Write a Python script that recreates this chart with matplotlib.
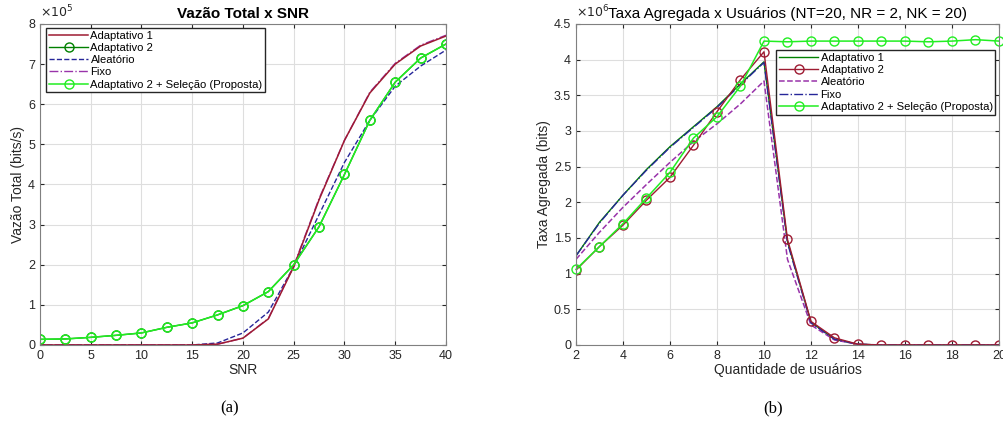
import numpy as np
from matplotlib import pyplot as plt

plt.rcParams['font.family'] = ['Liberation Sans', 'DejaVu Sans']

# (a) Vazao total x SNR, values in units of 1e5 bits/s
snr = [0, 2.5, 5, 7.5, 10, 12.5, 15, 17.5, 20, 22.5, 25, 27.5, 30, 32.5, 35, 37.5, 40]
vaz_adapt1 = [0, 0, 0, 0, 0, 0, 0, 0.02, 0.17, 0.65, 1.95, 3.62, 5.1, 6.28, 7.0, 7.45, 7.7]
vaz_fixo = [0, 0, 0, 0, 0, 0, 0, 0.02, 0.17, 0.66, 1.97, 3.65, 5.1, 6.3, 7.02, 7.47, 7.72]
vaz_aleat = [0, 0, 0, 0, 0, 0, 0, 0.05, 0.3, 0.82, 1.95, 3.25, 4.55, 5.6, 6.45, 6.95, 7.35]
vaz_proposta = [0.14, 0.15, 0.19, 0.24, 0.30, 0.44, 0.55, 0.75, 0.98, 1.33, 2.0, 2.95, 4.25, 5.6, 6.55, 7.15, 7.5]
vaz_adapt2 = vaz_proposta

# (b) Taxa agregada x usuarios, values in units of 1e6 bits
users = list(range(2, 21))
tax_adapt1 = [1.25, 1.72, 2.1, 2.46, 2.78, 3.06, 3.34, 3.66, 3.97, 1.45, 0.32, 0.08, 0.01, 0, 0, 0, 0, 0, 0]
tax_adapt2 = [1.05, 1.38, 1.68, 2.03, 2.35, 2.8, 3.27, 3.72, 4.11, 1.48, 0.33, 0.1, 0.01, 0, 0, 0, 0, 0, 0]
tax_aleat = [1.2, 1.58, 1.93, 2.25, 2.56, 2.85, 3.1, 3.38, 3.7, 1.2, 0.28, 0.07, 0.01, 0, 0, 0, 0, 0, 0]
tax_fixo = [1.25, 1.71, 2.1, 2.45, 2.77, 3.05, 3.33, 3.65, 3.96, 1.43, 0.31, 0.08, 0.01, 0, 0, 0, 0, 0, 0]
tax_proposta = [1.06, 1.38, 1.7, 2.06, 2.42, 2.9, 3.2, 3.63, 4.26, 4.25, 4.26, 4.26, 4.26, 4.26, 4.26, 4.25, 4.26, 4.28, 4.26]

dark_red = '#9e1b32'
dark_green = '#008000'
lime = '#22ee22'
purple = '#9933aa'
navy = '#262699'
txt = '#262626'


def style(ax):
    ax.grid(True, color='#dedede', linewidth=0.8)
    ax.set_axisbelow(True)
    ax.tick_params(direction='in', length=3, labelsize=9, colors=txt, top=True, right=True)
    for s in ax.spines.values():
        s.set_color('#808080')
        s.set_linewidth(0.8)


def legend(ax, order, anchor):
    h, l = ax.get_legend_handles_labels()
    ax.legend([h[i] for i in order], [l[i] for i in order], loc='upper left',
              bbox_to_anchor=anchor, fontsize=8.1, frameon=True, fancybox=False,
              edgecolor='#262626', framealpha=1, borderpad=0.25, labelspacing=0.2,
              handlelength=3.5, handletextpad=0.2, borderaxespad=0.0)


def main():
    fig = plt.figure(figsize=[10.04, 4.28], dpi=100)
    ax1 = fig.add_axes([0.0398, 0.194, 0.4044, 0.750])
    ax2 = fig.add_axes([0.5737, 0.194, 0.4213, 0.750])

    ms = 6.5
    ax1.plot(snr, vaz_adapt2, color=dark_green, marker='o', mfc='none', ms=ms, lw=1, label='Adaptativo 2')
    ax1.plot(snr, vaz_aleat, color=navy, ls='--', lw=1, label='Aleatório')
    ax1.plot(snr, vaz_fixo, color=purple, ls='-.', lw=1, label='Fixo')
    ax1.plot(snr, vaz_adapt1, color=dark_red, lw=1.1, label='Adaptativo 1')
    ax1.plot(snr, vaz_proposta, color=lime, marker='o', mfc='none', ms=ms, lw=1.1,
             label='Adaptativo 2 + Seleção (Proposta)')
    legend(ax1, [3, 0, 1, 2, 4], (0.015, 0.988))
    ax1.set_xlim(0, 40)
    ax1.set_ylim(0, 8)
    ax1.set_xticks(np.arange(0, 41, 5))
    ax1.set_yticks(np.arange(0, 9, 1))
    ax1.set_xlabel('SNR', fontsize=10, color=txt, labelpad=1)
    ax1.set_ylabel('Vazão Total (bits/s)', fontsize=10, color=txt, labelpad=2)
    ax1.set_title('Vazão Total x SNR', fontsize=11, fontweight='bold', color='k', pad=4)
    ax1.text(0.0, 1.01, r'$\times10^5$', transform=ax1.transAxes, fontsize=9, color=txt,
             ha='left', va='bottom')
    style(ax1)

    ax2.plot(users, tax_adapt1, color=dark_green, lw=1, label='Adaptativo 1')
    ax2.plot(users, tax_aleat, color=purple, ls='--', lw=1.1, label='Aleatório')
    ax2.plot(users, tax_fixo, color=navy, ls='-.', lw=1, label='Fixo')
    ax2.plot(users, tax_adapt2, color=dark_red, marker='o', mfc='none', ms=ms, lw=1, label='Adaptativo 2')
    ax2.plot(users, tax_proposta, color=lime, marker='o', mfc='none', ms=ms, lw=1.1,
             label='Adaptativo 2 + Seleção (Proposta)', clip_on=False)
    legend(ax2, [0, 3, 1, 2, 4], (0.473, 0.919))
    ax2.set_xlim(2, 20)
    ax2.set_ylim(0, 4.5)
    ax2.set_xticks(np.arange(2, 21, 2))
    ax2.set_yticks(np.arange(0, 4.6, 0.5))
    ax2.set_yticklabels(['0', '0.5', '1', '1.5', '2', '2.5', '3', '3.5', '4', '4.5'])
    ax2.set_xlabel('Quantidade de usuários', fontsize=10, color=txt, labelpad=1)
    ax2.set_ylabel('Taxa Agregada (bits)', fontsize=10, color=txt, labelpad=2)
    ax2.set_title('Taxa Agregada x Usuários (NT=20, NR = 2, NK = 20)', fontsize=11,
                  color='k', pad=4)
    ax2.text(0.0, 1.01, r'$\times10^6$', transform=ax2.transAxes, fontsize=9, color=txt,
             ha='left', va='bottom')
    style(ax2)

    fig.text(0.229, 0.037, '(a)', fontsize=12, family='Liberation Serif', ha='center')
    fig.text(0.770, 0.037, '(b)', fontsize=12, family='Liberation Serif', ha='center')

    fig.savefig('out.png', dpi=100)


if __name__ == '__main__':
    main()
